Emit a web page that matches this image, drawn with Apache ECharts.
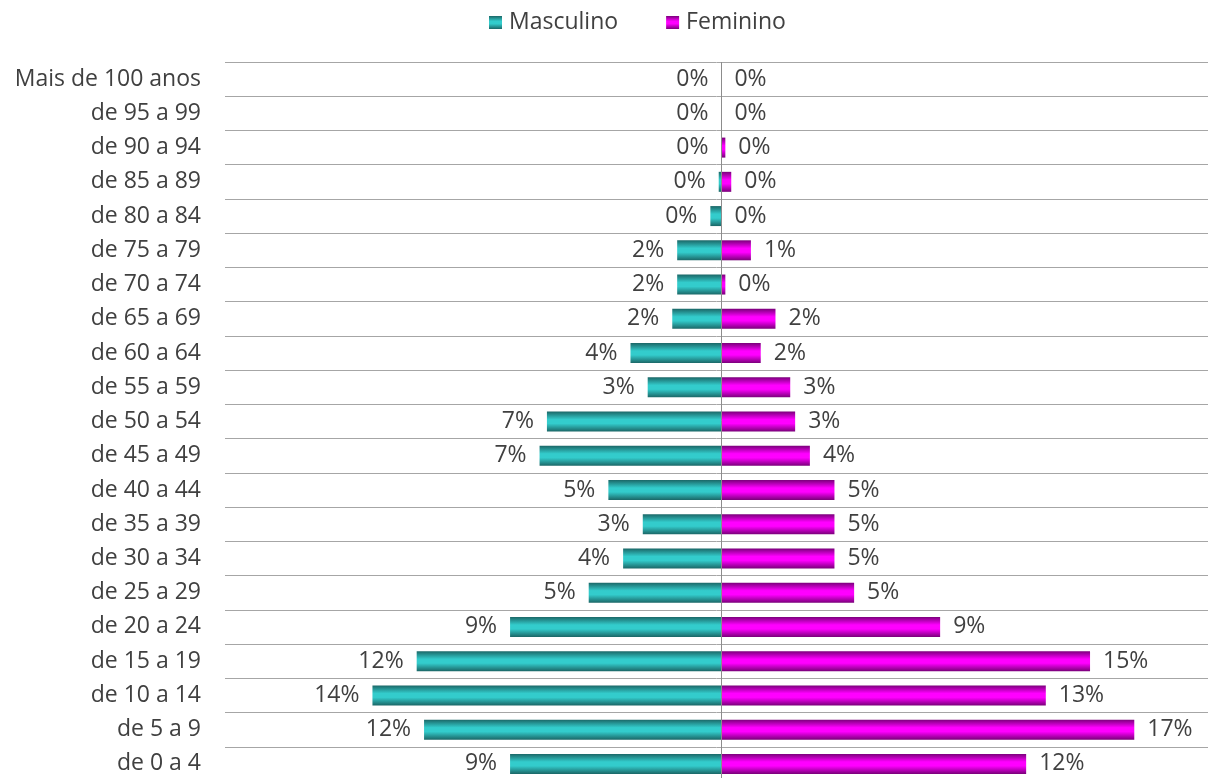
<!DOCTYPE html>
<html>
<head>
<meta charset="utf-8">
<script src="https://cdn.jsdelivr.net/npm/echarts@6/dist/echarts.min.js"></script>
<style>
  html, body { margin: 0; padding: 0; background: #fff; }
  #chart { width: 1208px; height: 778px; }
</style>
</head>
<body>
<div id="chart"></div>
<script>
// faixas etárias, de baixo para cima
const faixas = [
  'de 0 a 4', 'de 5 a 9', 'de 10 a 14', 'de 15 a 19', 'de 20 a 24',
  'de 25 a 29', 'de 30 a 34', 'de 35 a 39', 'de 40 a 44', 'de 45 a 49',
  'de 50 a 54', 'de 55 a 59', 'de 60 a 64', 'de 65 a 69', 'de 70 a 74',
  'de 75 a 79', 'de 80 a 84', 'de 85 a 89', 'de 90 a 94', 'de 95 a 99',
  'Mais de 100 anos'
]

// percentuais (%)
const masculino = [
  8.6, 12.1, 14.2, 12.4, 8.6,
  5.4, 4.0, 3.2, 4.6, 7.4,
  7.1, 3.0, 3.7, 2.0, 1.8,
  1.8, 0.45, 0.11, 0, 0,
  0
]
const feminino = [
  12.4, 16.8, 13.2, 15.0, 8.9,
  5.4, 4.6, 4.6, 4.6, 3.6,
  3.0, 2.8, 1.6, 2.2, 0.16,
  1.2, 0, 0.4, 0.16, 0,
  0
]

const txt = '#404040'
const fonte = '"Open Sans", Lato, sans-serif'
const tam = 23

const gradTeal = new echarts.graphic.LinearGradient(0, 0, 0, 1, [
  { offset: 0, color: '#1b6767' },
  { offset: 0.4, color: '#33cccc' },
  { offset: 0.6, color: '#33cccc' },
  { offset: 1, color: '#1b6767' }
])
const gradMag = new echarts.graphic.LinearGradient(0, 0, 0, 1, [
  { offset: 0, color: '#7a007a' },
  { offset: 0.4, color: '#ff00ff' },
  { offset: 0.6, color: '#ff00ff' },
  { offset: 1, color: '#7a007a' }
])

const chart = echarts.init(document.getElementById('chart'))

chart.setOption({
  animation: false,
  textStyle: { fontFamily: fonte },
  legend: {
    top: 6,
    left: 484,
    icon: 'rect',
    itemWidth: 13,
    itemHeight: 13,
    itemGap: 48,
    textStyle: { color: txt, fontSize: tam, fontFamily: fonte, padding: [0, 0, 0, 2] },
    data: ['Masculino', 'Feminino']
  },
  grid: { left: 225, right: 0, top: 62, height: 719, outerBoundsMode: 'none' },
  xAxis: {
    type: 'value',
    min: -20.2,
    max: 19.8,
    show: false
  },
  yAxis: {
    type: 'category',
    data: faixas,
    axisLine: { show: false, onZero: false },
    axisTick: { show: false },
    axisLabel: { color: txt, fontSize: tam, fontFamily: fonte, margin: 24 },
    splitLine: { show: true, lineStyle: { color: '#a6a6a6', width: 1 } }
  },
  series: [
    {
      name: 'Masculino',
      type: 'bar',
      barWidth: 20,
      barGap: '-100%',
      itemStyle: { color: gradTeal },
      data: masculino.map(v => -v),
      label: {
        show: true,
        position: 'left',
        distance: 13,
        color: txt,
        fontSize: tam,
        fontFamily: fonte,
        formatter: p => Math.round(Math.abs(p.value)) + '%'
      },
      markLine: {
        silent: true,
        symbol: 'none',
        label: { show: false },
        lineStyle: { color: '#8c8c8c', width: 1, type: 'solid' },
        data: [{ xAxis: 0 }]
      }
    },
    {
      name: 'Feminino',
      type: 'bar',
      barWidth: 20,
      itemStyle: { color: gradMag },
      data: feminino,
      label: {
        show: true,
        position: 'right',
        distance: 13,
        color: txt,
        fontSize: tam,
        fontFamily: fonte,
        formatter: p => Math.round(p.value) + '%'
      }
    }
  ]
})
</script>
</body>
</html>
